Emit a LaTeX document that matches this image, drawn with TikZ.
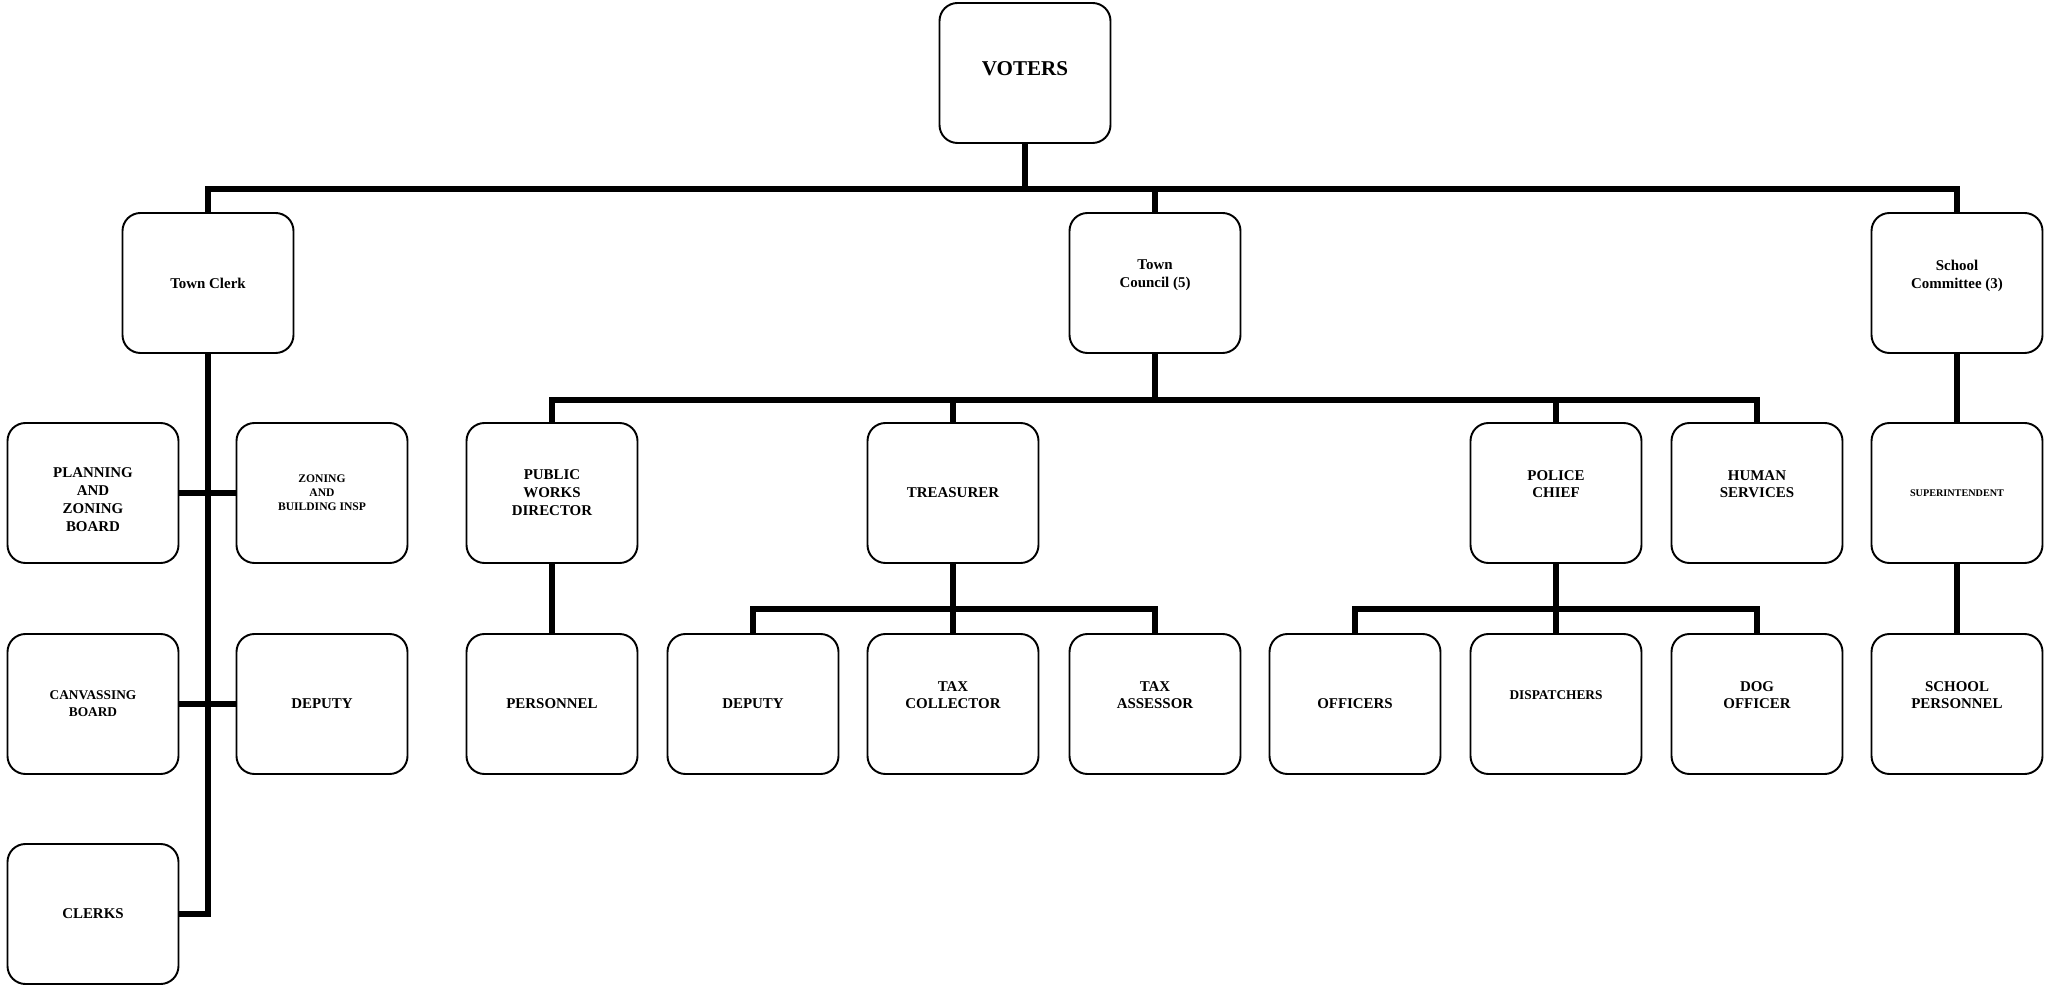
\documentclass[tikz,border=0pt]{standalone}
\usepackage{fontspec}
\setmainfont{Liberation Serif}
\usetikzlibrary{positioning}

\begin{document}
\begin{tikzpicture}[x=0.2mm,y=-0.2mm,
  box/.style={draw,rounded corners=3.6mm,line width=1.1pt,minimum width=3.42cm,
    minimum height=2.8cm,inner sep=2pt,align=center,
    font=\fontsize{8.5}{10.2}\selectfont\bfseries},
  small/.style={font=\fontsize{6.6}{8}\selectfont\bfseries},
  tiny/.style={font=\fontsize{5.8}{7}\selectfont\bfseries},
  mid/.style={font=\fontsize{7.6}{9.7}\selectfont\bfseries},
  bus/.style={line width=3.1pt}]
  \useasboundingbox (0,0) rectangle (2049,989);
  % Top: the voters and the three elected bodies.
  \node[box,font=\fontsize{12}{14}\selectfont\bfseries] (voters) at (1025,73) {VOTERS\\[-9pt]\mbox{}};
  \node[box] (clerk) at (208,283) {Town Clerk};
  \node[box] (council) at (1155,283) {Town\\Council (5)\\\mbox{}};
  \node[box] (school) at (1957,283) {School\\Committee (3)\\\mbox{}};
  % Second row.
  \node[box] (plan) at (93,493) {\mbox{}\\[3pt]PLANNING\\AND\\ZONING\\BOARD};
  \node[box,small] (zoning) at (322,493) {ZONING\\AND\\BUILDING INSP};
  \node[box] (works) at (552,493) {PUBLIC\\WORKS\\DIRECTOR};
  \node[box] (treas) at (953,493) {TREASURER};
  \node[box] (police) at (1556,493) {POLICE\\CHIEF\\\mbox{}};
  \node[box] (human) at (1757,493) {HUMAN\\SERVICES\\\mbox{}};
  \node[box,tiny] (super) at (1957,493) {SUPERINTENDENT};
  % Third row.
  \node[box,mid] (canvass) at (93,704) {CANVASSING\\BOARD};
  \node[box] (cdeputy) at (322,704) {DEPUTY};
  \node[box] (personnel) at (552,704) {PERSONNEL};
  \node[box] (tdeputy) at (753,704) {DEPUTY};
  \node[box] (taxcol) at (953,704) {TAX\\COLLECTOR\\\mbox{}};
  \node[box] (taxass) at (1155,704) {TAX\\ASSESSOR\\\mbox{}};
  \node[box] (officers) at (1355,704) {OFFICERS};
  \node[box,mid] (dispatch) at (1556,704) {DISPATCHERS\\\mbox{}};
  \node[box] (dog) at (1757,704) {DOG\\OFFICER\\\mbox{}};
  \node[box] (schpers) at (1957,704) {SCHOOL\\PERSONNEL\\\mbox{}};
  \node[box] (clerks) at (93,914) {CLERKS};
  % Lines of report.
  \foreach \t in {clerk,council,school} { \draw[bus] (voters.south) -- ++(0,45) -| (\t.north); }
  \foreach \t in {works,treas,police,human} { \draw[bus] (council.south) -- ++(0,46) -| (\t.north); }
  \foreach \t in {tdeputy,taxcol,taxass} { \draw[bus] (treas.south) -- ++(0,45) -| (\t.north); }
  \foreach \t in {officers,dispatch,dog} { \draw[bus] (police.south) -- ++(0,45) -| (\t.north); }
  \draw[bus] (clerk.south) |- (clerks.east);
  \draw[bus] (plan.east) -- (zoning.west);
  \draw[bus] (canvass.east) -- (cdeputy.west);
  \draw[bus] (works.south) -- (personnel.north);
  \draw[bus] (school.south) -- (super.north);
  \draw[bus] (super.south) -- (schpers.north);
\end{tikzpicture}
\end{document}
